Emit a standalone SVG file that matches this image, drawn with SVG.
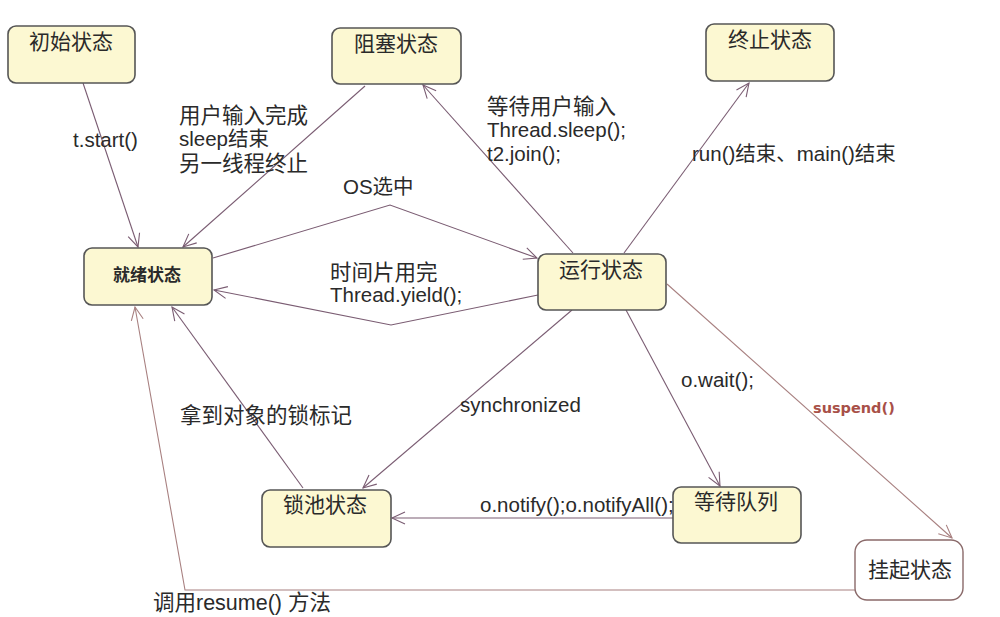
<svg xmlns="http://www.w3.org/2000/svg" width="1000" height="617" viewBox="0 0 1000 617">
<style>
text{font-family:"Liberation Sans","Noto Sans CJK SC",sans-serif;fill:#2a2a2a}
.lbl{font-size:20.5px}
.cjk{font-size:21.5px}
.ttl{font-size:21px;text-anchor:middle}
.node{fill:#fcf8d2;stroke:#555;stroke-width:1.6}
.plain{fill:#fff;stroke:#8a6a6a;stroke-width:1.4}
.edge{fill:none;stroke:#7a5c72;stroke-width:1.1}
.edge2{fill:none;stroke:#a88080;stroke-width:1.1}
</style>
<defs>
<marker id="arr" markerUnits="userSpaceOnUse" markerWidth="16" markerHeight="14" refX="14" refY="7" orient="auto">
<path d="M1,1 L14,7 L1,13" fill="none" stroke="#7a5c72" stroke-width="1.1"/>
</marker>
<marker id="arr2" markerUnits="userSpaceOnUse" markerWidth="16" markerHeight="14" refX="14" refY="7" orient="auto">
<path d="M1,1 L14,7 L1,13" fill="none" stroke="#a88080" stroke-width="1.1"/>
</marker>
</defs>
<rect width="1000" height="617" fill="#fff"/>
<g id="connectors">
<line class="edge" x1="83" y1="83" x2="138" y2="247" marker-end="url(#arr)"/>
<line class="edge" x1="365" y1="86" x2="183" y2="247" marker-end="url(#arr)"/>
<polyline class="edge" points="213,258 390,205 537,258" marker-end="url(#arr)"/>
<polyline class="edge" points="538,295 391,325 214,290" marker-end="url(#arr)"/>
<line class="edge" x1="573" y1="253" x2="423" y2="85" marker-end="url(#arr)"/>
<line class="edge" x1="624" y1="253" x2="749" y2="83" marker-end="url(#arr)"/>
<line class="edge" x1="572" y1="310" x2="363" y2="488" marker-end="url(#arr)"/>
<line class="edge" x1="626" y1="310" x2="720" y2="486" marker-end="url(#arr)"/>
<line class="edge" x1="303" y1="488" x2="172" y2="307" marker-end="url(#arr)"/>
<line class="edge" x1="673" y1="518" x2="392" y2="518" marker-end="url(#arr)"/>
<line class="edge2" x1="667" y1="284" x2="952" y2="538" marker-end="url(#arr2)"/>
<polyline class="edge2" points="855,590 185,590 135,307" marker-end="url(#arr2)"/>
</g>
<g id="n-init">
<rect class="node" x="8" y="26" width="127" height="57" rx="8"/>
<text class="ttl" x="71" y="49">初始状态</text>
</g>
<g id="n-blocked">
<rect class="node" x="332" y="28" width="129" height="56" rx="8"/>
<text class="ttl" x="396" y="51">阻塞状态</text>
</g>
<g id="n-term">
<rect class="node" x="706" y="24" width="128" height="57" rx="8"/>
<text class="ttl" x="770" y="47">终止状态</text>
</g>
<g id="n-ready">
<rect class="node" x="84" y="248" width="128" height="57" rx="8"/>
<text x="147" y="281" style="font-size:17px;font-weight:bold;text-anchor:middle">就绪状态</text>
</g>
<g id="n-run">
<rect class="node" x="538" y="254" width="128" height="56" rx="8"/>
<text class="ttl" x="601" y="277">运行状态</text>
</g>
<g id="n-lock">
<rect class="node" x="262" y="490" width="129" height="57" rx="8"/>
<text class="ttl" x="325" y="512">锁池状态</text>
</g>
<g id="n-wait">
<rect class="node" x="673" y="487" width="128" height="56" rx="8"/>
<text class="ttl" x="736" y="509">等待队列</text>
</g>
<g id="n-susp">
<rect class="plain" x="855" y="540" width="108" height="60" rx="12"/>
<text class="ttl" x="910" y="577">挂起状态</text>
</g>
<g id="labels">
<text class="lbl" x="73" y="147">t.start()</text>
<text class="cjk" x="179" y="123">用户输入完成</text>
<text class="lbl" x="179" y="146">sleep结束</text>
<text class="cjk" x="179" y="171">另一线程终止</text>
<text class="lbl" x="343" y="194">OS选中</text>
<text class="cjk" x="330" y="280">时间片用完</text>
<text class="lbl" x="330" y="302">Thread.yield();</text>
<text class="cjk" x="487" y="114">等待用户输入</text>
<text class="lbl" x="487" y="137">Thread.sleep();</text>
<text class="lbl" x="487" y="161">t2.join();</text>
<text class="lbl" x="692" y="161">run()结束、main()结束</text>
<text class="lbl" x="460" y="412">synchronized</text>
<text class="cjk" x="180" y="423">拿到对象的锁标记</text>
<text class="lbl" x="681" y="387">o.wait();</text>
<text x="813" y="413" style="font-family:'DejaVu Sans',sans-serif;font-size:14.5px;font-weight:bold;fill:#a85048">suspend()</text>
<text class="lbl" x="480" y="512">o.notify();o.notifyAll();</text>
<text class="cjk" x="153" y="610">调用resume() 方法</text>
</g>
</svg>
